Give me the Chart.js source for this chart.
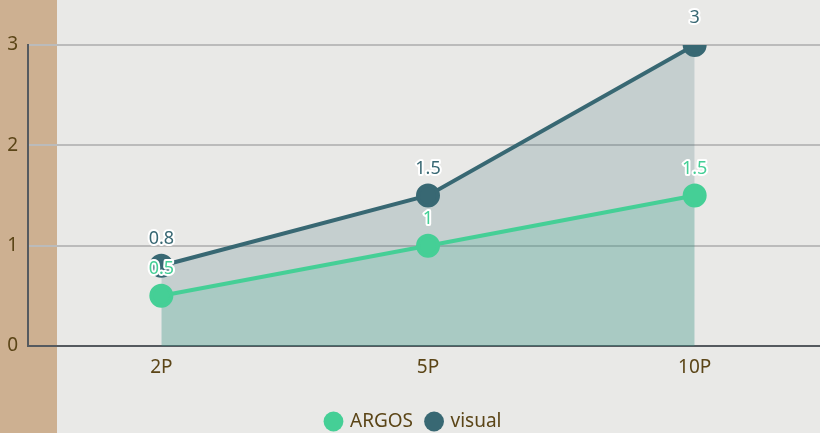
<!DOCTYPE html>
<html>
<head>
<meta charset="utf-8">
<script src="https://cdn.jsdelivr.net/npm/chart.js@4"></script>
<style>
  html, body { margin: 0; padding: 0; overflow: hidden; background: #e9e9e7; }
  canvas { display: block; }
</style>
</head>
<body>
<canvas id="lineChart" width="828" height="433"></canvas>
<script>
    // chart data
    const categories = ['2P', '5P', '10P'];
    const argosValues = [0.5, 1, 1.5];
    const visualValues = [0.8, 1.5, 3];
    const yTicks = [0, 1, 2, 3];

    const brown = '#5b4517';
    const green = '#45cf96';
    const teal = '#386873';

    // background + tan strip on the left
    const backdrop = {
        id: 'backdrop',
        beforeDraw(chart) {
            const ctx = chart.ctx;
            ctx.save();
            ctx.fillStyle = '#e9e9e7';
            ctx.fillRect(0, 0, chart.width, chart.height);
            ctx.fillStyle = '#cdb091';
            ctx.fillRect(0, 0, 57, chart.height);
            ctx.restore();
        }
    };

    // value labels above each point, white outline
    const valueLabels = {
        id: 'valueLabels',
        afterDatasetsDraw(chart) {
            const ctx = chart.ctx;
            ctx.save();
            ctx.font = '18px "Noto Sans"';
            ctx.textAlign = 'center';
            ctx.textBaseline = 'middle';
            ctx.lineJoin = 'round';
            chart.data.datasets.forEach((ds, i) => {
                chart.getDatasetMeta(i).data.forEach((pt, j) => {
                    const txt = String(ds.data[j]);
                    ctx.lineWidth = 4;
                    ctx.strokeStyle = '#ffffff';
                    ctx.strokeText(txt, pt.x, pt.y - 27);
                    ctx.fillStyle = ds.borderColor;
                    ctx.fillText(txt, pt.x, pt.y - 27);
                });
            });
            ctx.restore();
        }
    };

    const ctxLine = document.getElementById('lineChart').getContext('2d');
    new Chart(ctxLine, {
        type: 'line',
        data: {
            labels: categories,
            datasets: [{
                label: 'ARGOS',
                data: argosValues,
                borderColor: green,
                backgroundColor: 'rgba(60,185,150,0.2)',
                pointBackgroundColor: green,
                pointBorderColor: green,
                borderWidth: 4,
                pointRadius: 10,
                fill: 'origin',
                tension: 0
            }, {
                label: 'visual',
                data: visualValues,
                borderColor: teal,
                backgroundColor: 'rgba(56,104,115,0.2)',
                pointBackgroundColor: teal,
                pointBorderColor: teal,
                borderWidth: 4,
                pointRadius: 10,
                fill: 'origin',
                tension: 0
            }]
        },
        options: {
            responsive: false,
            animation: false,
            layout: { autoPadding: false, padding: { top: 45, left: 0, right: 0, bottom: -8 } },
            plugins: {
                legend: {
                    position: 'bottom',
                    labels: {
                        usePointStyle: true,
                        pointStyle: 'circle',
                        boxWidth: 14,
                        boxHeight: 14,
                        color: brown,
                        font: { family: 'Noto Sans', size: 19 },
                        padding: 14,
                        generateLabels(chart) {
                            return chart.data.datasets.map((ds, i) => ({
                                text: ds.label,
                                fillStyle: ds.borderColor,
                                strokeStyle: ds.borderColor,
                                lineWidth: 0,
                                pointStyle: 'circle',
                                fontColor: brown,
                                datasetIndex: i
                            }));
                        }
                    }
                },
                tooltip: { enabled: false }
            },
            scales: {
                x: {
                    offset: true,
                    afterFit(scale) { scale.height = 52; },
                    grid: { display: false, drawTicks: false, offset: true },
                    border: { display: true, color: '#555a5f', width: 2 },
                    ticks: { color: brown, font: { family: 'Noto Sans', size: 19 }, padding: 10 }
                },
                y: {
                    min: 0,
                    max: 3,
                    afterBuildTicks(scale) { scale.ticks = yTicks.map(v => ({ value: v })); },
                    afterFit(scale) { scale.width = 28; },
                    grid: { color: '#bbbbbb', lineWidth: 2, drawTicks: false },
                    border: { display: true, color: '#555a5f', width: 2 },
                    ticks: { color: brown, font: { family: 'Noto Sans', size: 19 }, padding: 10 }
                }
            }
        },
        plugins: [backdrop, valueLabels]
    });
</script>
</body>
</html>
